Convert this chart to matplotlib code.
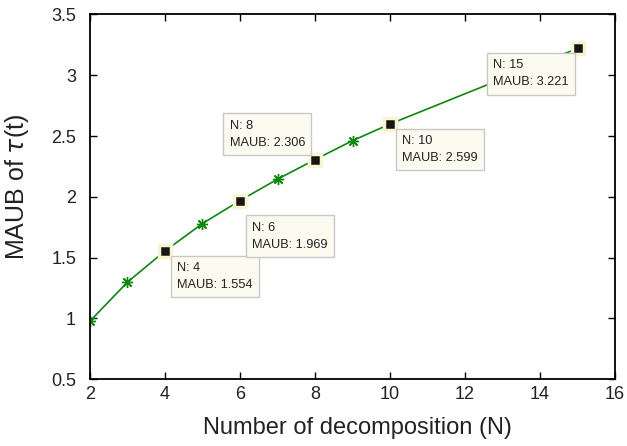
import numpy as np
import matplotlib
matplotlib.use("Agg")
import matplotlib.pyplot as plt

plt.rcParams['font.family'] = ['Liberation Sans', 'DejaVu Sans']

# data
n_vals = [2, 3, 4, 5, 6, 7, 8, 9, 10, 15]
maub = [0.977, 1.298, 1.554, 1.780, 1.969, 2.145, 2.306, 2.462, 2.599, 3.221]

# datatips: N, value, text offset (px), alignment
tip_n = [4, 6, 8, 10, 15]
tip_val = [1.554, 1.969, 2.306, 2.599, 3.221]
tip_off = [(12, -11), (12, -21), (-10, 11), (12, -11), (-9, -11)]
tip_ha = ['left', 'left', 'right', 'left', 'right']
tip_va = ['top', 'top', 'bottom', 'top', 'top']

fig = plt.figure(figsize=(6.27, 4.46), dpi=100)
ax = fig.add_axes([0.1435, 0.150, 0.8375, 0.8175])

ax.plot(n_vals, maub, color='#0a8a0a', lw=1.2, marker=(8, 2, 0), ms=8,
        markeredgewidth=1.0)

# black squares for the datatips
ax.plot(tip_n, tip_val, ls='none', marker='s', ms=9, color='#151515',
        markeredgecolor='#f8f4d0', markeredgewidth=2.5, zorder=5)

for n, v, off, ha, va in zip(tip_n, tip_val, tip_off, tip_ha, tip_va):
    ax.annotate(f"N: {n}\nMAUB: {v:.3f}", xy=(n, v), xytext=off,
                textcoords='offset pixels', ha=ha, va=va,
                multialignment='left', fontsize=9.2, linespacing=1.55,
                color='#222222', zorder=6,
                bbox=dict(boxstyle='square,pad=0.5', fc='#fbfbef',
                          ec='#c8c8c8', lw=1))

ax.set_xlim(2, 16)
ax.set_ylim(0.5, 3.5)
ax.set_xticks(np.arange(2, 17, 2))
ax.set_yticks(np.arange(0.5, 3.6, 0.5))
ax.set_yticklabels(['0.5', '1', '1.5', '2', '2.5', '3', '3.5'])
ax.tick_params(direction='in', top=True, right=True, length=5, width=1,
               labelsize=13, labelcolor='#222222')
ax.tick_params(axis='x', pad=5)
ax.tick_params(axis='y', pad=10)
for s in ax.spines.values():
    s.set_linewidth(1.3)

ax.set_xlabel("Number of decomposition (N)", fontsize=17, color='#222222')
ax.set_ylabel(r"MAUB of $\tau$(t)", fontsize=18, color='#222222')
ax.xaxis.set_label_coords(0.51, -0.105)
ax.yaxis.set_label_coords(-0.112, 0.527)

fig.savefig("out.png", dpi=100)
